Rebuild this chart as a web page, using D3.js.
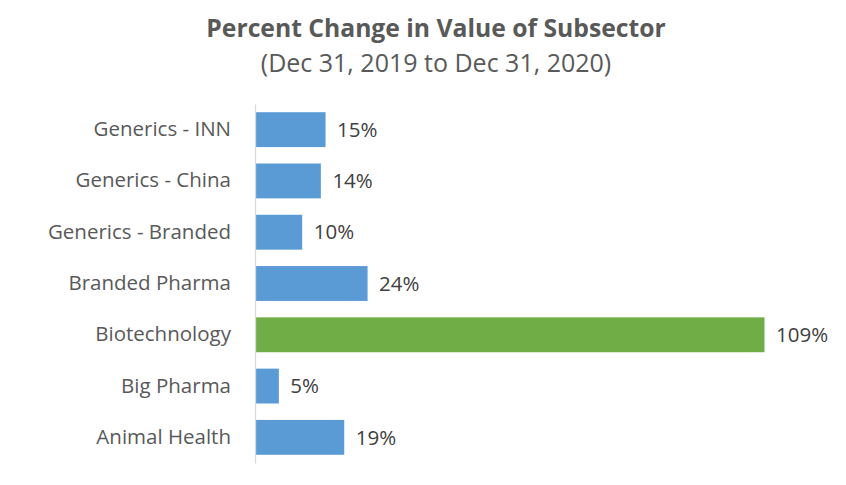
<!DOCTYPE html>
<html>
<head>
<meta charset="utf-8">
<script src="https://cdn.jsdelivr.net/npm/d3@7"></script>
<style>
  body { margin: 0; background: #fff; }
  svg text { font-family: "Open Sans", "Noto Sans", sans-serif; }
</style>
</head>
<body>
<div id="chart"></div>
<script>
const categories = ["Generics - INN", "Generics - China", "Generics - Branded", "Branded Pharma", "Biotechnology", "Big Pharma", "Animal Health"];
const values = [15, 14, 10, 24, 109, 5, 19];
const highlight = "Biotechnology";

const totalWidth = 846;
const totalHeight = 485;
const margin = { left: 255, right: 82, top: 104, bottom: 22 };
const height = totalHeight - margin.top - margin.bottom;

const svg = d3.select("#chart")
    .append("svg")
    .attr("width", totalWidth)
    .attr("height", totalHeight);

// title + subtitle
svg.append("text")
    .attr("x", 436)
    .attr("y", 37)
    .attr("text-anchor", "middle")
    .attr("fill", "#595959")
    .attr("font-size", 24.7)
    .attr("font-weight", "bold")
    .text("Percent Change in Value of Subsector");

svg.append("text")
    .attr("x", 436)
    .attr("y", 72)
    .attr("text-anchor", "middle")
    .attr("fill", "#595959")
    .attr("font-size", 25)
    .text("(Dec 31, 2019 to Dec 31, 2020)");

const g = svg.append("g")
    .attr("transform", `translate(${margin.left},${margin.top})`);

const x = d3.scaleLinear()
    .domain([0, 109])
    .range([0, 509]);

const y = d3.scaleBand()
    .domain(categories)
    .range([0, height])
    .paddingInner(0.32)
    .paddingOuter(0.16);

const data = categories.map((c, i) => ({ name: c, value: values[i] }));

g.selectAll("rect")
    .data(data)
    .join("rect")
    .attr("x", 0.5)
    .attr("y", d => y(d.name))
    .attr("width", d => x(d.value))
    .attr("height", y.bandwidth())
    .attr("fill", d => d.name === highlight ? "#70AD47" : "#5B9BD5");

const yAxis = g.append("g")
    .call(d3.axisLeft(y).tickSize(0).tickPadding(24));
yAxis.select(".domain").attr("stroke", "#D9D9D9").attr("stroke-width", 1.3);
yAxis.selectAll("text")
    .attr("font-size", 20.5)
    .attr("fill", "#595959")
    .style("font-family", "'Open Sans', 'Noto Sans', sans-serif");

// value labels
g.selectAll(".val")
    .data(data)
    .join("text")
    .attr("class", "val")
    .attr("x", d => x(d.value) + 12)
    .attr("y", d => y(d.name) + y.bandwidth() / 2)
    .attr("dy", "0.35em")
    .attr("font-size", 20.5)
    .attr("fill", "#404040")
    .text(d => d.value + "%");
</script>
</body>
</html>
